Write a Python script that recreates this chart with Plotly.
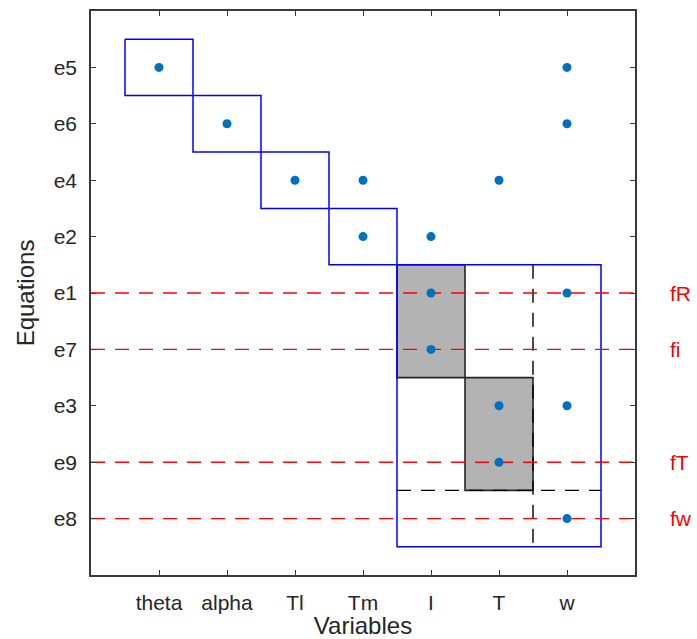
import plotly.graph_objects as go

# ---- data ----
equations = ["e5", "e6", "e4", "e2", "e1", "e7", "e3", "e9", "e8"]
variables = ["theta", "alpha", "Tl", "Tm", "I", "T", "w"]

incidence = {
    "e5": ["theta", "w"],
    "e6": ["alpha", "w"],
    "e4": ["Tl", "Tm", "T"],
    "e2": ["Tm", "I"],
    "e1": ["I", "w"],
    "e7": ["I"],
    "e3": ["T", "w"],
    "e9": ["T"],
    "e8": ["w"],
}

blue_blocks = [
    (["theta"], ["e5"]),
    (["alpha"], ["e6"]),
    (["Tl"], ["e4"]),
    (["Tm"], ["e2"]),
    (["I", "T", "w"], ["e1", "e7", "e3", "e9", "e8"]),
]
gray_blocks = [
    (["I"], ["e1", "e7"]),
    (["T"], ["e3", "e9"]),
]
# dashed separators
vsep = (("T", "w"), ("e1", "e8"))
hsep = (("e9", "e8"), ("I", "w"))

fault_eqs = ["e1", "e7", "e9", "e8"]
fault_labels = ["fR", "fi", "fT", "fw"]

# ---- helpers ----
xi = {v: i + 1 for i, v in enumerate(variables)}
yi = {e: i + 1 for i, e in enumerate(equations)}
xmax = len(variables) + 1
ymax = len(equations) + 1


def rect(vs, es):
    xs = [xi[v] for v in vs]
    ys = [yi[e] for e in es]
    x0, x1 = min(xs) - 0.5, max(xs) + 0.5
    y0, y1 = min(ys) - 0.5, max(ys) + 0.5
    return [x0, x1, x1, x0, x0], [y0, y0, y1, y1, y0]


fig = go.Figure()

for vs, es in gray_blocks:
    x, y = rect(vs, es)
    fig.add_trace(go.Scatter(x=x, y=y, mode="lines", fill="toself",
                             fillcolor="#B3B3B3",
                             line=dict(color="#262626", width=1.6),
                             showlegend=False, hoverinfo="skip"))

(va, vb), (ea, eb) = vsep
xv = (xi[va] + xi[vb]) / 2
fig.add_trace(go.Scatter(x=[xv, xv], y=[yi[ea] - 0.5, yi[eb] + 0.5], mode="lines",
                         line=dict(color="#000000", width=1.4, dash="14px,10px"),
                         showlegend=False, hoverinfo="skip"))
(ha, hb), (va2, vb2) = hsep
yh = (yi[ha] + yi[hb]) / 2
fig.add_trace(go.Scatter(x=[xi[va2] - 0.5, xi[vb2] + 0.5], y=[yh, yh], mode="lines",
                         line=dict(color="#000000", width=1.4, dash="14px,10px"),
                         showlegend=False, hoverinfo="skip"))

for vs, es in blue_blocks:
    x, y = rect(vs, es)
    fig.add_trace(go.Scatter(x=x, y=y, mode="lines",
                             line=dict(color="#0000FF", width=1.5),
                             showlegend=False, hoverinfo="skip"))

for e in fault_eqs:
    fig.add_trace(go.Scatter(x=[0, xmax], y=[yi[e], yi[e]], mode="lines",
                             line=dict(color="#FF0000", width=1.4, dash="14px,10px"),
                             showlegend=False, hoverinfo="skip"))

px, py = [], []
for e in equations:
    for v in incidence[e]:
        px.append(xi[v])
        py.append(yi[e])
fig.add_trace(go.Scatter(x=px, y=py, mode="markers",
                         marker=dict(color="#0072BD", size=9),
                         showlegend=False, hoverinfo="skip"))

for e, lab in zip(fault_eqs, fault_labels):
    fig.add_annotation(xref="paper", yref="y", x=1.06, y=yi[e], text=lab,
                       showarrow=False, xanchor="left", yanchor="middle",
                       font=dict(color="#FF0000", size=21, family="Liberation Sans"))

axis_common = dict(showgrid=False, zeroline=False, showline=True, mirror="ticks",
                   linecolor="#3a3a3a", linewidth=1.5, ticks="inside", ticklen=5,
                   tickcolor="#3a3a3a", tickwidth=1.2, automargin=False,
                   tickfont=dict(size=21, color="#262626", family="Liberation Sans"))

fig.update_layout(
    width=697, height=639,
    margin=dict(l=91, r=62, t=11, b=64),
    plot_bgcolor="white", paper_bgcolor="white",
    font=dict(family="Liberation Sans", color="#262626"),
    xaxis=dict(range=[0, xmax], tickvals=[xi[v] for v in variables],
               ticktext=variables, ticklabelstandoff=8,
               title=dict(text="Variables", font=dict(size=24), standoff=2),
               **axis_common),
    yaxis=dict(range=[ymax, 0], tickvals=[yi[e] for e in equations],
               ticktext=equations, ticklabelstandoff=8,
               title=dict(text="Equations", font=dict(size=24), standoff=12),
               **axis_common),
)

fig.write_html("out.html")
